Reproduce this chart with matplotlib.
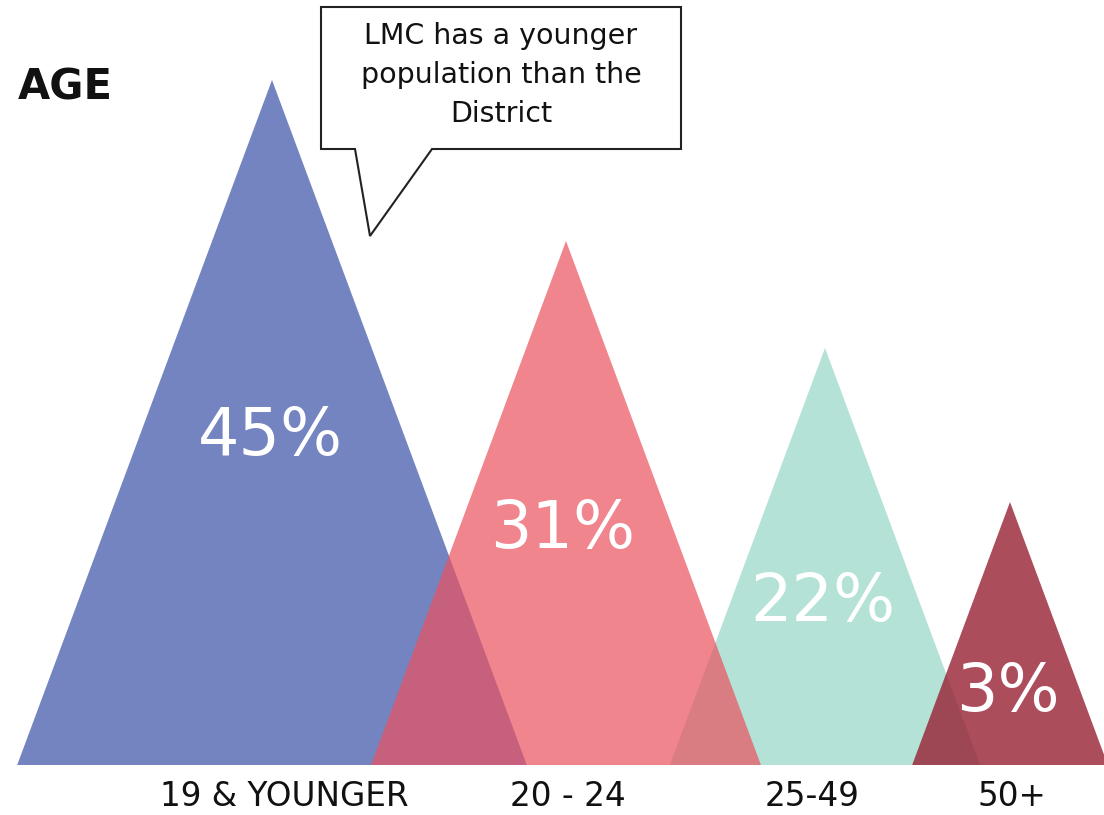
import matplotlib
matplotlib.use("Agg")
import matplotlib.pyplot as plt
from matplotlib.patches import Polygon

# ---- data ----
categories = ["19 & YOUNGER", "20 - 24", "25-49", "50+"]
shares = [45, 31, 22, 3]
share_labels = [f"{v}%" for v in shares]
title = "AGE"
callout = "LMC has a younger\npopulation than the\nDistrict"

# ---- layout / style (pixel-like units, baseline at 0) ----
centers = [272, 566, 825, 1010]
peak_heights = [685, 524, 417, 263]
half_width_ratio = 0.372
label_y = [328, 235, 162, 72]
label_dx = [-2, -3, -2, -2]
cat_x = [284, 568, 812, 1012]
colors = ["#7384c1", (234/255, 82/255, 95/255), "#b4e2d6", (152/255, 32/255, 51/255)]
alphas = [1.0, 0.70, 1.0, 0.80]
zorders = [1, 3, 2, 4]

W, H = 1104, 815
fig = plt.figure(figsize=(W / 100, H / 100), dpi=100)
ax = fig.add_axes([0, 0, 1, 1])
ax.set_xlim(0, W)
ax.set_ylim(-50, 765)
ax.axis("off")

for c, h, col, a, z in zip(centers, peak_heights, colors, alphas, zorders):
    hw = h * half_width_ratio
    tri = Polygon([(c - hw, 0), (c, h), (c + hw, 0)], closed=True,
                  facecolor=col, alpha=a, edgecolor="none", zorder=z)
    ax.add_patch(tri)

for c, dx, y, s in zip(centers, label_dx, label_y, share_labels):
    ax.text(c + dx, y, s, ha="center", va="center", color="white",
            fontsize=47, family="DejaVu Sans", zorder=10)

for x, s in zip(cat_x, categories):
    ax.text(x, -32, s, ha="center", va="center", color="#111111",
            fontsize=23.5, family="DejaVu Sans", zorder=10)

ax.text(18, 678, title, ha="left", va="center", color="#111111",
        fontsize=30, fontweight="bold", family="DejaVu Sans", zorder=10)

# callout bubble
bubble = Polygon([(321, 758), (681, 758), (681, 616), (432, 616), (370, 529),
                  (355, 616), (321, 616)], closed=True, facecolor="white",
                 edgecolor="#222222", linewidth=1.5, zorder=8)
ax.add_patch(bubble)
ax.text(501, 690, callout, ha="center", va="center", color="#111111",
        fontsize=20.5, family="DejaVu Sans", linespacing=1.5, zorder=9)

fig.savefig("out.png", dpi=100)
